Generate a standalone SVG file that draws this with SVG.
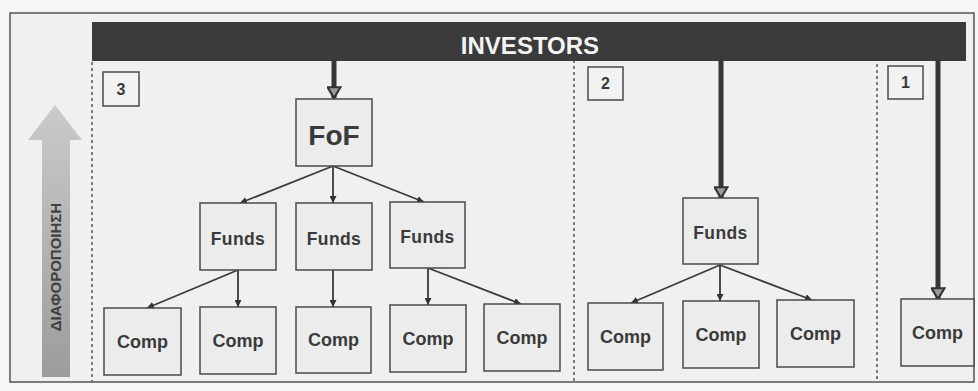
<svg xmlns="http://www.w3.org/2000/svg" width="978" height="391" viewBox="0 0 978 391">
  <defs>
    <style>
      .box { fill: #ececec; stroke: #4a4a4a; stroke-width: 1.5; }
      .tag { fill: #f2f2f2; stroke: #4a4a4a; stroke-width: 1.5; }
      .lbl { font-family: "Liberation Sans", Arial, sans-serif; font-weight: bold; fill: #3a3a3a; text-anchor: middle; }
      .fund { font-size: 17.5px; letter-spacing: 0.4px; }
      .comp { font-size: 18px; }
      .num { font-size: 16px; }
      .thin { stroke: #3a3a3a; stroke-width: 1.8; fill: none; marker-end: url(#headThin); }
      .thick { stroke: #363636; stroke-width: 5; fill: none; marker-end: url(#headThick); }
      .divider { stroke: #555; stroke-width: 1.5; stroke-dasharray: 3 3; fill: none; }
    </style>
    <marker id="headThin" viewBox="0 0 10 10" refX="10" refY="5" markerWidth="7" markerHeight="7" markerUnits="userSpaceOnUse" orient="auto">
      <path d="M0,0 L10,5 L0,10 z" fill="#333"/>
    </marker>
    <marker id="headThick" viewBox="0 0 12 14" refX="11" refY="7" markerWidth="13" markerHeight="15" markerUnits="userSpaceOnUse" orient="auto">
      <path d="M1,1 L11,7 L1,13 z" fill="#9a9a9a" stroke="#333" stroke-width="2" stroke-linejoin="miter"/>
    </marker>
    <linearGradient id="upGrad" x1="0" y1="0" x2="0" y2="1">
      <stop offset="0" stop-color="#cacaca"/>
      <stop offset="1" stop-color="#9c9c9c"/>
    </linearGradient>
  </defs>

  <!-- page and frame -->
  <rect x="0" y="0" width="978" height="391" fill="#f6f6f6"/>
  <rect x="10" y="13" width="964" height="369" fill="#f0f0f0" stroke="#555" stroke-width="1.5"/>

  <!-- diversification arrow -->
  <g id="diversification">
    <path d="M42,377 L42,140 L28,140 L55,105 L82,140 L70,140 L70,377 Z" fill="url(#upGrad)"/>
    <text class="lbl" x="0" y="0" font-size="15" style="fill:#404040" transform="translate(60.5,267) rotate(-90)">ΔΙΑΦΟΡΟΠΟΙΗΣΗ</text>
  </g>

  <!-- section dividers -->
  <g id="dividers">
    <line class="divider" x1="92" y1="62" x2="92" y2="382"/>
    <line class="divider" x1="574" y1="60" x2="574" y2="382"/>
    <line class="divider" x1="877" y1="58" x2="877" y2="382"/>
  </g>

  <!-- investors bar -->
  <g id="investors">
    <rect x="92" y="22" width="874" height="39" fill="#3b3b3b"/>
    <text class="lbl" x="530" y="54" font-size="24" style="fill:#f4f4f4">INVESTORS</text>
  </g>

  <!-- section numbers -->
  <g id="tag3"><rect class="tag" x="103" y="72" width="36" height="34"/><text class="lbl num" x="121" y="95">3</text></g>
  <g id="tag2"><rect class="tag" x="588" y="67" width="35" height="33"/><text class="lbl num" x="605.5" y="89">2</text></g>
  <g id="tag1"><rect class="tag" x="888" y="66" width="35" height="33"/><text class="lbl num" x="905.5" y="88">1</text></g>

  <!-- connectors -->
  <g id="connectors">
    <line class="thick" x1="334" y1="60" x2="334" y2="98"/>
    <line class="thick" x1="721" y1="60" x2="721" y2="198"/>
    <line class="thick" x1="938" y1="59" x2="938" y2="299"/>

    <line class="thin" x1="333" y1="166" x2="240" y2="203"/>
    <line class="thin" x1="333" y1="166" x2="333" y2="203"/>
    <line class="thin" x1="333" y1="166" x2="424" y2="202"/>

    <line class="thin" x1="238" y1="270" x2="147" y2="308"/>
    <line class="thin" x1="238" y1="270" x2="238" y2="307"/>
    <line class="thin" x1="333" y1="270" x2="333" y2="307"/>
    <line class="thin" x1="428" y1="268" x2="428" y2="305"/>
    <line class="thin" x1="428" y1="268" x2="521" y2="304"/>

    <line class="thin" x1="720" y1="265" x2="631" y2="303"/>
    <line class="thin" x1="720" y1="265" x2="720" y2="301"/>
    <line class="thin" x1="720" y1="265" x2="812" y2="300"/>
  </g>

  <!-- fund of funds -->
  <g id="fof"><rect class="box" x="296" y="99" width="76" height="67"/><text class="lbl" x="334" y="145" font-size="28">FoF</text></g>

  <!-- funds -->
  <g id="funds-3a"><rect class="box" x="200" y="203" width="76" height="67"/><text class="lbl fund" x="238" y="245">Funds</text></g>
  <g id="funds-3b"><rect class="box" x="296" y="203" width="76" height="67"/><text class="lbl fund" x="334" y="245">Funds</text></g>
  <g id="funds-3c"><rect class="box" x="390" y="202" width="75" height="66"/><text class="lbl fund" x="427.5" y="243">Funds</text></g>
  <g id="funds-2"><rect class="box" x="683" y="198" width="75" height="66"/><text class="lbl fund" x="720.5" y="239">Funds</text></g>

  <!-- companies -->
  <g id="comp-3a"><rect class="box" x="104" y="308" width="77" height="67"/><text class="lbl comp" x="142.5" y="348">Comp</text></g>
  <g id="comp-3b"><rect class="box" x="200" y="307" width="76" height="67"/><text class="lbl comp" x="238" y="347">Comp</text></g>
  <g id="comp-3c"><rect class="box" x="296" y="307" width="75" height="66"/><text class="lbl comp" x="333.5" y="346">Comp</text></g>
  <g id="comp-3d"><rect class="box" x="390" y="305" width="76" height="67"/><text class="lbl comp" x="428" y="345">Comp</text></g>
  <g id="comp-3e"><rect class="box" x="484" y="304" width="76" height="67"/><text class="lbl comp" x="522" y="344">Comp</text></g>
  <g id="comp-2a"><rect class="box" x="588" y="303" width="75" height="67"/><text class="lbl comp" x="625.5" y="343">Comp</text></g>
  <g id="comp-2b"><rect class="box" x="683" y="301" width="76" height="67"/><text class="lbl comp" x="721" y="341">Comp</text></g>
  <g id="comp-2c"><rect class="box" x="777" y="300" width="77" height="67"/><text class="lbl comp" x="815.5" y="340">Comp</text></g>
  <g id="comp-1"><rect class="box" x="901" y="299" width="73" height="67"/><text class="lbl comp" x="937.5" y="339">Comp</text></g>
</svg>
